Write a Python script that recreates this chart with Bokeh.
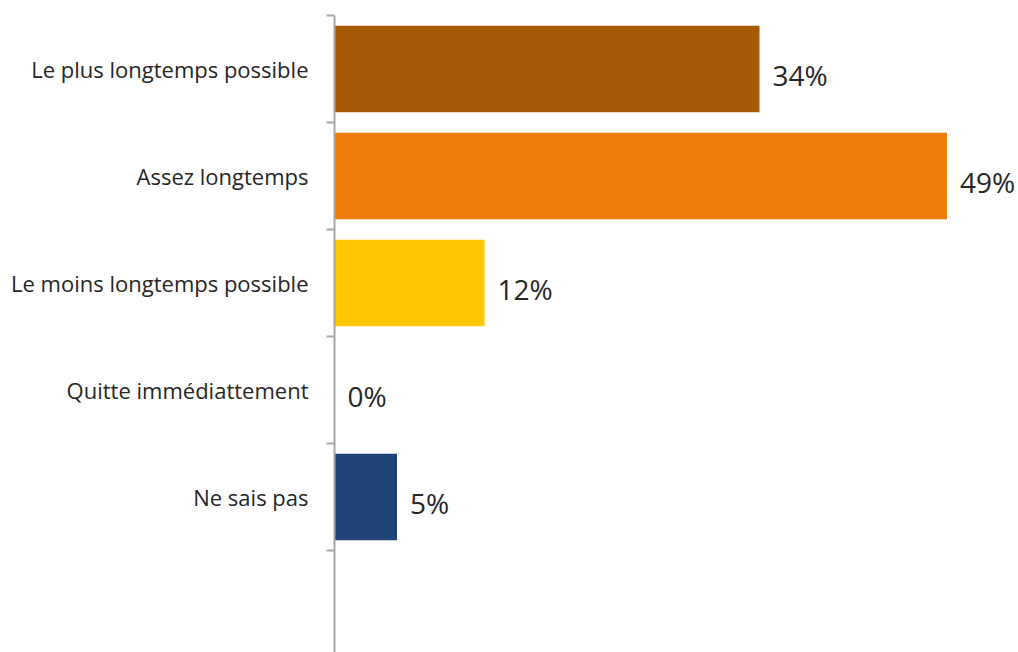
from bokeh.plotting import figure
from bokeh.models import Range1d, FixedTicker, ColumnDataSource
from bokeh.core.properties import value
from bokeh.embed import file_html
from bokeh.resources import INLINE

categories = ["Le plus longtemps possible", "Assez longtemps", "Le moins longtemps possible",
              "Quitte immédiattement", "Ne sais pas"]
values = [34, 49, 12, 0, 5]
value_labels = ["34%", "49%", "12%", "0%", "5%"]
bar_colors = ["#A75A05", "#EC7F0A", "#FFC800", "#FFFFFF", "#1F4477"]

n_slots = 6  # includes an empty slot at the bottom
ypos = [i + 0.5 for i in range(len(categories))]

src = ColumnDataSource(dict(y=ypos, v=values, lab=value_labels, c=bar_colors))

W, H = 1018, 652
top_border = 15
band_px = 107.0
frame_h = H - top_border
px_per_pct = 12.5
left_border = 334

p = figure(width=W, height=H, output_backend="svg", toolbar_location=None,
           x_axis_location=None,
           x_range=Range1d(0, (W - left_border) / px_per_pct),
           y_range=Range1d(frame_h / band_px, 0),
           min_border_left=left_border, min_border_right=0,
           min_border_top=top_border, min_border_bottom=0)
p.outline_line_color = None
p.grid.visible = False
p.background_fill_color = "white"
p.border_fill_color = "white"

p.hbar(y="y", left=0, right="v", height=0.81, fill_color="c", line_color=None, source=src)

p.text(x="v", y="y", text="lab", source=src, x_offset=13, y_offset=6,
       text_baseline="middle", text_align="left",
       text_font=value("Open Sans"), text_font_size="28px", text_color="#262626")

ax = p.yaxis[0]
ax.ticker = FixedTicker(ticks=ypos, minor_ticks=list(range(n_slots)))
ax.major_label_overrides = {y: c for y, c in zip(ypos, categories)}
ax.major_tick_line_color = None
ax.major_tick_out = 0
ax.major_tick_in = 0
ax.minor_tick_out = 8
ax.minor_tick_in = 0
ax.minor_tick_line_color = "#A6A6A6"
ax.minor_tick_line_width = 2
ax.axis_line_color = "#A6A6A6"
ax.axis_line_width = 2
ax.major_label_standoff = 18
ax.major_label_text_font = "Open Sans"
ax.major_label_text_font_size = "22px"
ax.major_label_text_color = "#262626"

open("out.html", "w").write(file_html(p, INLINE))
